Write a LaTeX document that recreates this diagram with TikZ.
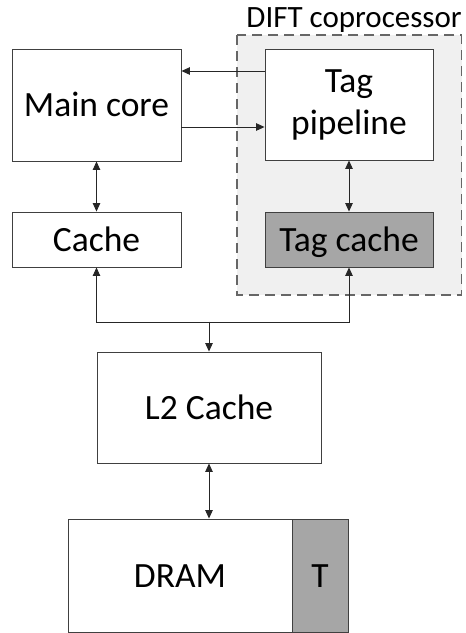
\documentclass[tikz,border=0pt]{standalone}
\usepackage{fontspec}
\setmainfont{Carlito}
\usetikzlibrary{arrows.meta}
\colorlet{linecol}{black!75}
\colorlet{tagfill}{black!35}
\tikzset{
	blk/.style={rectangle,draw=linecol,line width=0.9pt,fill=white,inner sep=0pt,align=center,
		font=\fontsize{35.5}{42}\selectfont},
	oneline/.style={text height=23pt,text depth=0pt},
	tagblk/.style={blk,fill=tagfill},
	coproc/.style={draw=black!60,line width=1.1pt,dash pattern=on 10pt off 6pt,fill=black!6},
	conn/.style={line width=0.9pt,black!85},
	lbl/.style={font=\fontsize{31}{36}\selectfont,inner sep=0pt},
	>={Triangle[length=8.5pt,width=7.5pt]},
	}

\begin{document}
\begin{tikzpicture}[x=1pt,y=-1pt]
\useasboundingbox (0,0) rectangle (466,633);

% coprocessor area
\draw[coproc] (237,35) rectangle (461.5,295);
\node (dift) at (462,27) [lbl,anchor=base east] {DIFT coprocessor};

\node (main) at (96.5,105) [blk,oneline,minimum width=169pt,minimum height=112pt] {Main core};
\node (tp) at (349,104.5) [blk,minimum width=168pt,minimum height=111pt] {Tag\\pipeline};
\node (cache) at (96.5,239.5) [blk,oneline,minimum width=169pt,minimum height=55pt] {Cache};
\node (tc) at (349,239.5) [tagblk,oneline,minimum width=168pt,minimum height=55pt] {Tag cache};
\node (l2) at (209,407.5) [blk,oneline,minimum width=224pt,minimum height=111pt] {L2 Cache};
\node (dram) at (180,575.5) [blk,oneline,minimum width=224pt,minimum height=113pt] {DRAM};
\node (tmem) at (320,575.5) [tagblk,oneline,minimum width=56pt,minimum height=113pt] {T};

 \draw[conn,->] ([yshift=33.5pt]tp.west) coordinate (t1) -- (t1 -| main.east);
 \draw[conn,->] ([yshift=-22pt]main.east) coordinate (m1) -- (m1 -| tp.west);
 \draw[conn,<->] (main.south) -- (cache.north);
 \draw[conn,<->] (tp.south) -- (tc.north);
 \draw[conn,<->] (cache.south) -- ++(0,55) -| (tc.south);
 \draw[conn,->] ([yshift=30pt]l2.north) -- (l2.north);
 \draw[conn,<->] (l2.south) -- (l2.south |- dram.north);
\end{tikzpicture}
\end{document}
